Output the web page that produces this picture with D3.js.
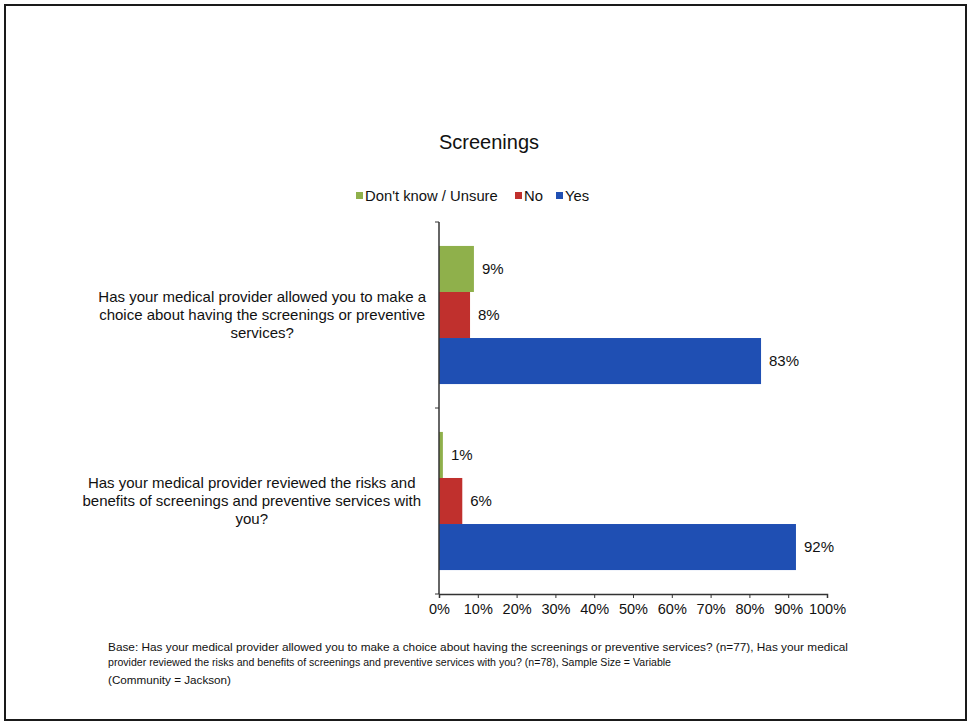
<!DOCTYPE html>
<html>
<head>
<meta charset="utf-8">
<script src="https://cdn.jsdelivr.net/npm/d3@7"></script>
<style>
  html, body { margin: 0; padding: 0; background: #fff; }
  svg { display: block; font-family: Arial, "Liberation Sans", sans-serif; }
</style>
</head>
<body>
<svg id="chart" width="969" height="725"></svg>
<script>
const title = "Screenings";
const categories = [
  "Has your medical provider allowed you to make a choice about having the screenings or preventive services?",
  "Has your medical provider reviewed the risks and benefits of screenings and preventive services with you?"
];
const categoryLines = [
  ["Has your medical provider allowed you to make a", "choice about having the screenings or preventive", "services?"],
  ["Has your medical provider reviewed the risks and", "benefits of screenings and preventive services with", "you?"]
];
const seriesNames = ["Don't know / Unsure", "No", "Yes"];
const seriesColors = ["#8fb04b", "#c0302d", "#1f4fb3"];
const dontKnow = [0.09, 0.01];
const no = [0.08, 0.06];
const yes = [0.83, 0.92];
const tickValues = [0, 0.1, 0.2, 0.3, 0.4, 0.5, 0.6, 0.7, 0.8, 0.9, 1.0];
const footnoteLines = [
  "Base: Has your medical provider allowed you to make a choice about having the screenings or preventive services? (n=77), Has your medical",
  "provider reviewed the risks and benefits of screenings and preventive services with you? (n=78), Sample Size = Variable",
  "(Community = Jackson)"
];

const seriesValues = [dontKnow, no, yes];
const svg = d3.select("#chart");

// frame
svg.append("rect").attr("x", 5).attr("y", 5).attr("width", 961).attr("height", 715)
  .attr("fill", "#fff").attr("stroke", "#1a1a1a").attr("stroke-width", 2);

const x = d3.scaleLinear().domain([0, 1]).range([439, 827]);
const y = d3.scaleBand().domain(categories).range([222, 594]).padding(0);
const ys = d3.scaleBand().domain(seriesNames).range([0, y.bandwidth()]).paddingInner(0).paddingOuter(0.52);

// title
svg.append("text").attr("x", 489).attr("y", 149).attr("text-anchor", "middle")
  .attr("font-size", 20).attr("fill", "#111").text(title);

// legend
const legendX = [356, 515, 556];
seriesNames.forEach((s, i) => {
  svg.append("rect").attr("x", legendX[i]).attr("y", 192).attr("width", 7).attr("height", 7)
    .attr("fill", seriesColors[i]);
  svg.append("text").attr("x", legendX[i] + 9).attr("y", 200.5)
    .attr("font-size", 14.8).attr("fill", "#111").text(s);
});

// bars
categories.forEach((c, ci) => {
  seriesNames.forEach((s, si) => {
    const v = seriesValues[si][ci];
    const by = y(c) + ys(s);
    svg.append("rect").attr("x", x(0)).attr("y", by)
      .attr("width", x(v) - x(0)).attr("height", ys.bandwidth())
      .attr("fill", seriesColors[si]);
    svg.append("text").attr("x", x(v) + 8).attr("y", by + ys.bandwidth() / 2 + 5)
      .attr("font-size", 15).attr("fill", "#111").text(Math.round(v * 100) + "%");
  });
});

// axes
const xAxis = d3.axisBottom(x).tickValues(tickValues).tickFormat(d3.format(".0%")).tickSizeOuter(0).tickSize(4);
const gx = svg.append("g").attr("transform", "translate(0,594)").call(xAxis);
gx.select(".domain").attr("stroke", "#333").attr("stroke-width", 1.5);
gx.selectAll(".tick line").attr("stroke", "#333");
gx.selectAll(".tick text").attr("font-size", 14.5).attr("fill", "#111").attr("font-family", "Arial, 'Liberation Sans', sans-serif").attr("dy", "0.9em").attr("y", 7);

const gy = svg.append("g").attr("transform", "translate(439,0)");
gy.append("line").attr("x1", 0).attr("x2", 0).attr("y1", 222).attr("y2", 594).attr("stroke", "#333").attr("stroke-width", 1.5);
[222, ...categories.map(c => y(c) + y.bandwidth())].forEach(t => {
  gy.append("line").attr("x1", -4).attr("x2", 0).attr("y1", t).attr("y2", t).attr("stroke", "#333");
});

// category labels (centered block, right edge near axis)
const labelRight = [426, 421];
categories.forEach((c, ci) => {
  const lines = categoryLines[ci];
  const g = svg.append("g");
  const cy = y(c) + y.bandwidth() / 2;
  const tmp = lines.map(l => {
    const t = g.append("text").attr("font-size", 15).text(l);
    const w = t.node().getComputedTextLength();
    t.remove();
    return w;
  });
  const maxW = d3.max(tmp);
  const cx = labelRight[ci] - maxW / 2;
  lines.forEach((l, li) => {
    g.append("text").attr("x", cx).attr("y", cy + (li - 1) * 18 + 5)
      .attr("text-anchor", "middle").attr("font-size", 15).attr("fill", "#111").text(l);
  });
});

// footnote
const fnY = [651, 666, 684];
const fnW = [740, 563, 123];
footnoteLines.forEach((l, i) => {
  svg.append("text").attr("x", 108).attr("y", fnY[i]).attr("font-size", 10.5)
    .attr("fill", "#111").attr("textLength", fnW[i]).attr("lengthAdjust", "spacingAndGlyphs").text(l);
});
</script>
</body>
</html>
